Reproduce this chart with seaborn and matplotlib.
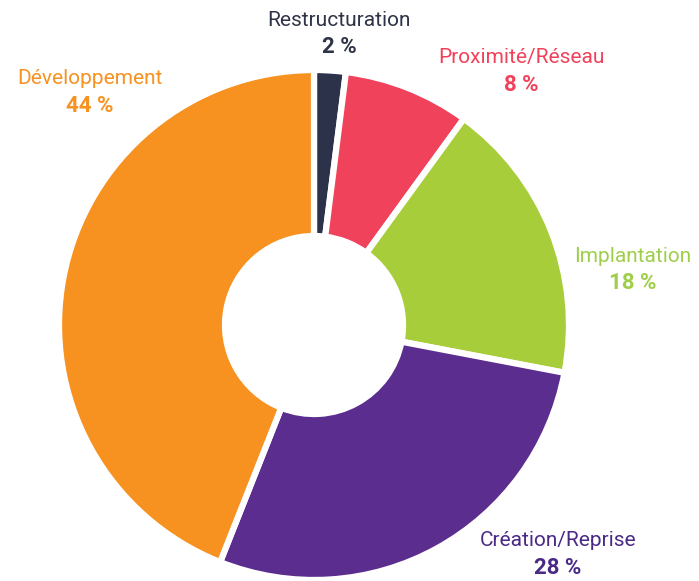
import matplotlib
matplotlib.use("Agg")
import matplotlib.pyplot as plt
import seaborn as sns

categories = ["Restructuration", "Proximité/Réseau", "Implantation", "Création/Reprise", "Développement"]
values = [2, 8, 18, 28, 44]
slice_colors = ["#2b3249", "#f0425a", "#a8cd3a", "#5b2d8e", "#f7911f"]
text_colors = ["#2f3447", "#f0425a", "#9fcf4a", "#4a2a86", "#f7911f"]
pct_labels = ["2 %", "8 %", "18 %", "28 %", "44 %"]

sns.set_theme(style="white")
plt.rcParams["font.family"] = ["Roboto", "DejaVu Sans"]

W, H = 699, 581
fig = plt.figure(figsize=(W / 100, H / 100), dpi=100)
ax = fig.add_axes([0, 0, 1, 1])

cx, cy, R, r = 314, H - 325, 255, 89
ax.pie(values, colors=slice_colors, startangle=90, counterclock=False,
       center=(cx, cy), radius=R, frame=True,
       wedgeprops=dict(width=R - r, edgecolor="white", linewidth=4.5))
ax.set_xlim(0, W)
ax.set_ylim(0, H)
ax.set_aspect("equal")
ax.axis("off")

# label positions in pixel coordinates (x, y from top), same order as categories
label_pos = [(339, 20), (521, 58), (633, 256), (558, 541), (90, 79)]
for name, pct, col, (x, y) in zip(categories, pct_labels, text_colors, label_pos):
    ax.text(x, H - y, name, color=col, fontsize=15, ha="center", va="center")
    ax.text(x, H - y - 27, pct, color=col, fontsize=16, fontweight="bold",
            ha="center", va="center")

fig.savefig("out.png", dpi=100)
